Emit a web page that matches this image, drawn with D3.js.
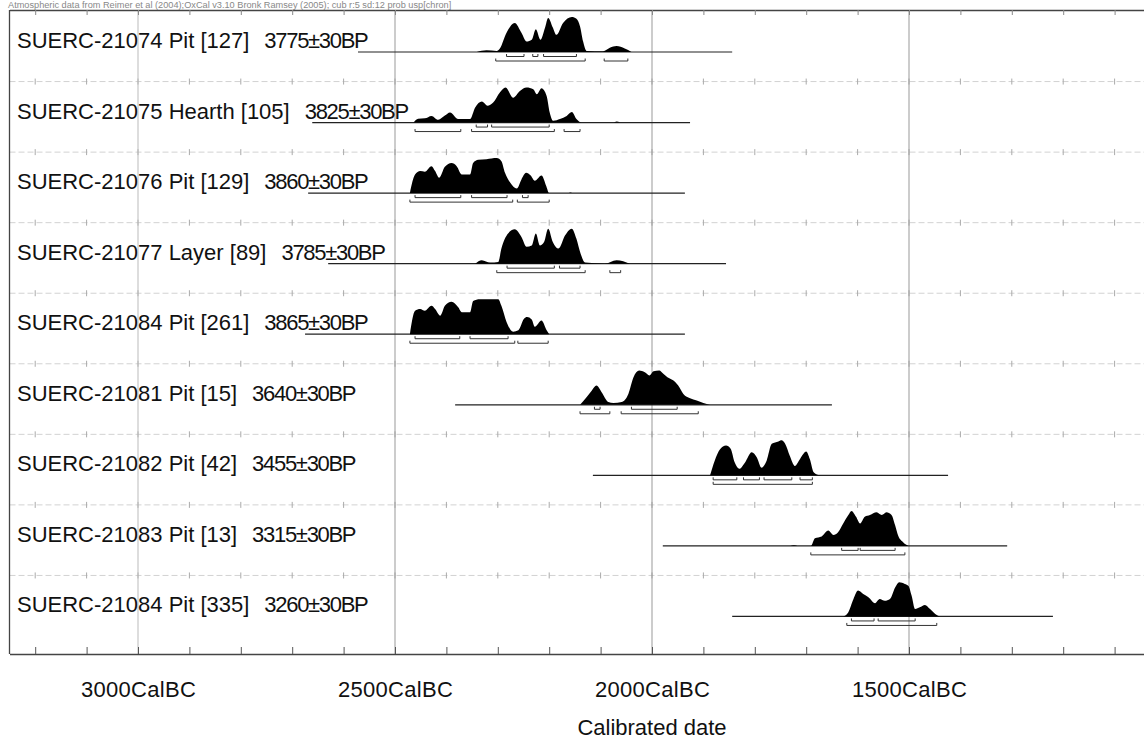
<!DOCTYPE html>
<html>
<head>
<meta charset="utf-8">
<script src="https://cdnjs.cloudflare.com/ajax/libs/d3/7.8.5/d3.min.js"></script>
<style>
body { margin: 0; background: #fff; }
svg { display: block; font-family: "Liberation Sans", Arial, sans-serif; }
</style>
</head>
<body>
<svg id="chart" width="1144" height="739"></svg>
<script>
var names = [
    "SUERC-21074 Pit [127]",
    "SUERC-21075 Hearth [105]",
    "SUERC-21076 Pit [129]",
    "SUERC-21077 Layer [89]",
    "SUERC-21084 Pit [261]",
    "SUERC-21081 Pit [15]",
    "SUERC-21082 Pit [42]",
    "SUERC-21083 Pit [13]",
    "SUERC-21084 Pit [335]"
];
var bpDates = ["3775\u00b130BP", "3825\u00b130BP", "3860\u00b130BP", "3785\u00b130BP", "3865\u00b130BP",
               "3640\u00b130BP", "3455\u00b130BP", "3315\u00b130BP", "3260\u00b130BP"];

// extent of the plotted calibration for each date (cal BC)
var lineFrom = [2572, 2661, 2669, 2630, 2675, 2383, 2115, 1979, 1844];
var lineTo   = [1844, 1926, 1936, 1856, 1936, 1650, 1424, 1309, 1220];

// probability distributions [year BC, relative probability]
var prob21074 = [[2341,0],[2322,0.05],[2302,0.03],[2296,0.1],[2283,0.55],[2267,0.83],[2254,0.55],[2244,0.3],[2234,0.35],[2226,0.65],[2217,0.35],[2208,0.7],[2202,0.97],[2193,0.7],[2186,0.49],[2173,0.83],[2156,1],[2147,0.95],[2140,0.73],[2134,0.3],[2127,0.03],[2095,0.02],[2082,0.12],[2069,0.17],[2053,0.1],[2040,0]];
var prob21075 = [[2464,0],[2455,0.11],[2442,0.12],[2429,0.19],[2416,0.08],[2403,0.2],[2393,0.29],[2377,0.1],[2354,0.1],[2344,0.43],[2331,0.6],[2320,0.48],[2309,0.57],[2296,0.86],[2285,1],[2270,0.71],[2257,0.9],[2244,1],[2231,0.95],[2224,0.81],[2215,0.98],[2205,0.76],[2199,0.29],[2192,0.05],[2179,0.1],[2166,0.19],[2156,0.3],[2147,0.1],[2137,0],[2075,0],[2069,0.03],[2062,0]];
var prob21076 = [[2471,0],[2461,0.53],[2451,0.63],[2442,0.61],[2429,0.77],[2422,0.63],[2414,0.44],[2403,0.75],[2390,0.86],[2380,0.77],[2370,0.53],[2354,0.53],[2348,0.86],[2338,0.95],[2322,0.97],[2302,1],[2293,0.91],[2286,0.58],[2276,0.3],[2263,0.13],[2254,0.39],[2245,0.58],[2236,0.5],[2228,0.35],[2215,0.5],[2206,0.21],[2200,0],[2162,0],[2159,0.02],[2155,0]];
var prob21077 = [[2344,0],[2331,0.1],[2315,0.03],[2299,0.05],[2293,0.43],[2280,0.86],[2267,0.98],[2254,0.76],[2244,0.48],[2234,0.52],[2226,0.86],[2218,0.52],[2210,0.62],[2202,1],[2193,0.62],[2182,0.43],[2169,0.81],[2156,1],[2147,0.71],[2139,0.29],[2130,0.03],[2092,0],[2069,0.1],[2043,0]];
var prob21084a = [[2471,0],[2461,0.67],[2451,0.72],[2442,0.67],[2429,0.81],[2422,0.72],[2412,0.53],[2403,0.81],[2390,0.93],[2377,0.77],[2370,0.63],[2354,0.63],[2348,0.95],[2335,1],[2315,1],[2299,1],[2293,0.81],[2283,0.35],[2270,0.07],[2260,0.11],[2249,0.44],[2243,0.49],[2234,0.42],[2228,0.21],[2215,0.39],[2205,0.11],[2200,0]];
var prob21081 = [[2140,0],[2127,0.22],[2117,0.41],[2108,0.55],[2098,0.36],[2085,0.08],[2075,0.05],[2059,0.08],[2046,0.31],[2036,0.79],[2025,0.98],[2014,0.93],[2005,0.84],[1997,0.96],[1986,0.98],[1978,0.89],[1970,0.79],[1959,0.7],[1949,0.55],[1939,0.31],[1926,0.19],[1913,0.12],[1900,0.05],[1887,0]];
var prob21082 = [[1887,0],[1878,0.42],[1868,0.74],[1856,0.85],[1847,0.76],[1839,0.37],[1830,0.19],[1819,0.37],[1806,0.66],[1796,0.51],[1787,0.22],[1777,0.42],[1767,0.9],[1754,0.97],[1748,1],[1741,0.9],[1732,0.56],[1722,0.27],[1712,0.47],[1700,0.68],[1693,0.47],[1685,0.08],[1676,0.01],[1667,0]];
var prob21083 = [[1731,0],[1724,0.02],[1717,0],[1691,0],[1683,0.22],[1670,0.27],[1657,0.44],[1647,0.31],[1638,0.39],[1628,0.64],[1618,0.88],[1612,1],[1603,0.83],[1595,0.64],[1586,0.83],[1576,0.88],[1563,0.96],[1553,0.88],[1544,0.96],[1534,0.88],[1527,0.59],[1521,0.29],[1511,0.1],[1501,0]];
var prob21084b = [[1628,0],[1618,0.12],[1608,0.5],[1599,0.74],[1589,0.64],[1579,0.55],[1566,0.38],[1557,0.5],[1547,0.45],[1537,0.5],[1527,0.83],[1519,0.98],[1508,0.93],[1501,0.87],[1495,0.6],[1488,0.21],[1479,0.26],[1469,0.33],[1459,0.21],[1449,0.07],[1440,0]];

var probs = [prob21074, prob21075, prob21076, prob21077, prob21084a, prob21081, prob21082, prob21083, prob21084b];

// 68.2% and 95.4% ranges (cal BC)
var sigma1 = [
    [[2283,2249],[2232,2222],[2211,2147]],
    [[2342,2320],[2312,2200]],
    [[2461,2372],[2351,2282],[2252,2241]],
    [[2282,2190],[2180,2140]],
    [[2461,2374],[2354,2280]],
    [[2112,2101],[2040,1951]],
    [[1881,1835],[1822,1791],[1782,1728],[1712,1688]],
    [[1631,1599],[1595,1527]],
    [[1612,1568],[1560,1488]]
];
var sigma2 = [
    [[2304,2130],[2093,2047]],
    [[2461,2372],[2351,2190],[2171,2140]],
    [[2471,2271],[2262,2200]],
    [[2302,2130],[2082,2061]],
    [[2471,2267],[2261,2202]],
    [[2140,2082],[2060,1910]],
    [[1881,1688]],
    [[1691,1508]],
    [[1621,1446]]
];

var majorTicks = [3000, 2500, 2000, 1500];
var minorTicks = d3.range(3200, 1000, -100);

var svg = d3.select("#chart");

var frameTop = 10, frameBottom = 654, frameLeft = 9.5;

var x = d3.scaleLinear().domain([3250, 1043]).range([frameLeft, 1143.9]);
var row = d3.scaleBand().domain(d3.range(names.length)).range([11, 646]);
var h = d3.scaleLinear().domain([0, 1]).range([0, 35]);

// header line
svg.append("text")
    .attr("x", 8).attr("y", 8)
    .attr("font-size", "9.2px")
    .attr("fill", "#888")
    .text("Atmospheric data from Reimer et al (2004);OxCal v3.10 Bronk Ramsey (2005); cub r:5 sd:12 prob usp[chron]");

// row separators with their little ticks
var seps = svg.selectAll(".sep")
    .data(d3.range(1, names.length))
    .join("g")
    .attr("class", "sep")
    .attr("transform", function (d) { return "translate(0," + row(d) + ")"; });

seps.append("line")
    .attr("x1", frameLeft).attr("x2", 1144)
    .attr("stroke", "#d2d2d2")
    .attr("stroke-dasharray", "6,3");

seps.selectAll("line.tk")
    .data(minorTicks)
    .join("line")
    .attr("class", "tk")
    .attr("x1", function (d) { return x(d); })
    .attr("x2", function (d) { return x(d); })
    .attr("y1", -3).attr("y2", 3)
    .attr("stroke", "#aaa");

// major grid lines
svg.selectAll(".grid")
    .data(majorTicks)
    .join("line")
    .attr("class", "grid")
    .attr("x1", function (d) { return x(d); })
    .attr("x2", function (d) { return x(d); })
    .attr("y1", frameTop).attr("y2", frameBottom)
    .attr("stroke", function (d) { return d == 3000 ? "#bbb" : "#999"; });

// frame
var topAxis = svg.append("g")
    .attr("transform", "translate(0," + frameTop + ")")
    .call(d3.axisBottom(x).tickValues(minorTicks).tickSize(5).tickSizeOuter(0).tickFormat(""));
topAxis.select(".domain").attr("stroke", "#444").attr("stroke-width", 1.6);
topAxis.selectAll(".tick line").attr("stroke", "#888");

var bottomAxis = svg.append("g")
    .attr("transform", "translate(0," + frameBottom + ")")
    .call(d3.axisTop(x).tickValues(minorTicks).tickSize(7).tickSizeOuter(0).tickFormat(""));
bottomAxis.select(".domain").attr("stroke", "#444").attr("stroke-width", 1.3);
bottomAxis.selectAll(".tick line").attr("stroke", "#555");

var labelAxis = svg.append("g")
    .attr("transform", "translate(0," + frameBottom + ")")
    .call(d3.axisBottom(x).tickValues(majorTicks).tickSize(0).tickPadding(27)
        .tickFormat(function (d) { return d + "CalBC"; }));
labelAxis.select(".domain").remove();
labelAxis.selectAll("text")
    .attr("font-family", "'Liberation Sans', Arial, sans-serif")
    .attr("font-size", "22px")
    .attr("letter-spacing", "0.3px")
    .attr("fill", "#111");

svg.append("line")
    .attr("x1", frameLeft).attr("x2", frameLeft)
    .attr("y1", frameTop).attr("y2", frameBottom)
    .attr("stroke", "#444").attr("stroke-width", 1.3);

svg.append("text")
    .attr("x", x(2000)).attr("y", 735)
    .attr("text-anchor", "middle")
    .attr("font-size", "22px")
    .attr("fill", "#111")
    .text("Calibrated date");

// the dates
var area = d3.area()
    .x(function (d) { return x(d[0]); })
    .y0(41)
    .y1(function (d) { return 41 - h(d[1]); })
    .curve(d3.curveMonotoneX);

function bracket(r, y) {
    return "M" + x(r[0]) + "," + (y - 2.5) + "V" + y + "H" + x(r[1]) + "V" + (y - 2.5);
}

var rows = svg.selectAll(".row")
    .data(names)
    .join("g")
    .attr("class", "row")
    .attr("transform", function (d, i) { return "translate(0," + row(i) + ")"; });

rows.append("line")
    .attr("x1", function (d, i) { return x(lineFrom[i]); })
    .attr("x2", function (d, i) { return x(lineTo[i]); })
    .attr("y1", 41).attr("y2", 41)
    .attr("stroke", "#222").attr("stroke-width", 1.2);

rows.append("path")
    .attr("d", function (d, i) { return area(probs[i]); })
    .attr("fill", "#000");

rows.each(function (d, i) {
    var g = d3.select(this);
    g.selectAll("path.s1")
        .data(sigma1[i])
        .join("path")
        .attr("class", "s1")
        .attr("d", function (r) { return bracket(r, 45.5); })
        .attr("fill", "none").attr("stroke", "#333");
    g.selectAll("path.s2")
        .data(sigma2[i])
        .join("path")
        .attr("class", "s2")
        .attr("d", function (r) { return bracket(r, 50); })
        .attr("fill", "none").attr("stroke", "#333");
});

var lbl = rows.append("text")
    .attr("x", 17).attr("y", 37)
    .attr("font-size", "22px")
    .attr("fill", "#111");
lbl.append("tspan")
    .text(function (d) { return d; });
lbl.append("tspan")
    .attr("dx", 15)
    .attr("letter-spacing", "-1.3px")
    .text(function (d, i) { return bpDates[i]; });
</script>
</body>
</html>
